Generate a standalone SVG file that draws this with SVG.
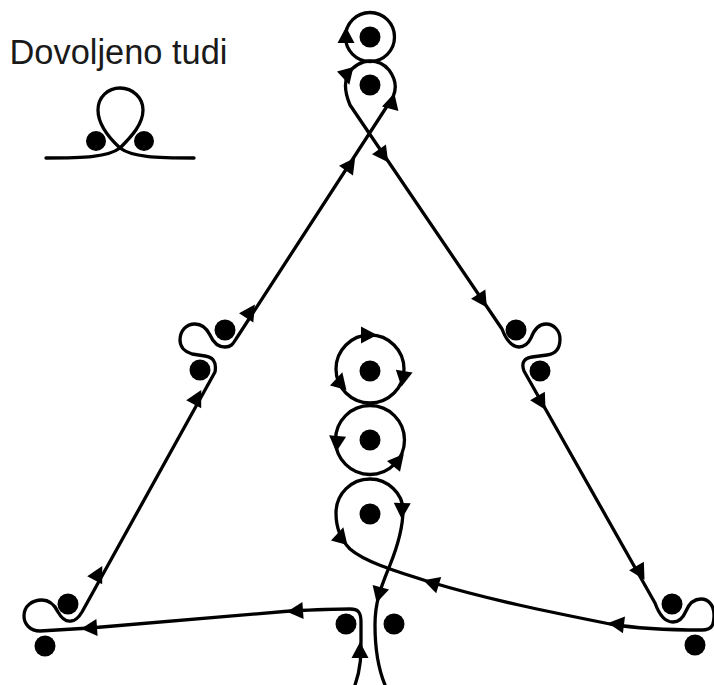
<svg xmlns="http://www.w3.org/2000/svg" width="714" height="685" viewBox="0 0 714 685">
<style>
.l{fill:none;stroke:#000;stroke-width:3.3;stroke-linecap:round;stroke-linejoin:round}
.d{fill:#000}
.t{font-family:"Liberation Sans",Arial,sans-serif;font-size:34.4px;fill:#1a1a1a}
</style>
<defs><polygon id="a" points="9,0 -7,-8.5 -7,8.5" fill="#000"/></defs>
<rect width="714" height="685" fill="#fff"/>
<g id="label"><text class="t" x="9.5" y="64">Dovoljeno tudi</text></g>
<g id="connectors">
<path class="l" d="M46 158C85 158 108 157 120 148C107 136 98 124 98 110C98 97 108 88 120 88C133 88 143 98 143 110C143 124 132 136 120 148C132 157 155 158 194 158"/>
<circle class="l" cx="370" cy="37" r="24.5"/>
<path class="l" d="M355 685C361 668 361 655 361 640L361 622C361 612 358 609 350 609C330 609 310 610 290 611L90 628L40 631C30 631 24 624 24 616C24 606 32 600 42 600C50 600 55 606 58 612C62 619 66 622 71 621C76 621 79 617 82 612L215 372C217 361 212 357 205 356L192 354C185 352 180 347 180 340C180 331 186 324 195 324C202 324 207 329 210 335C213 342 218 347 225 347C231 347 233 344 236 339L393 97C397 88 395 78 389 70C384 64 377 61 370 61C362 61 353 66 348 74C344 82 345 93 350 105L502 329C507 342 512 347 519 347C525 347 528 344 531 338C534 330 538 324 546 324C554 324 560 331 560 339C560 349 555 354 547 355L532 357C524 358 521 363 524 371L655 603C660 617 666 622 673 622C679 622 683 618 686 611C689 604 694 599 701 599C709 599 714 606 714 615C714 625 712 630 702 630C670 630 640 629 610 624C550 612 490 600 430 582C395 571 365 562 350 549C341 540 336 527 336 513C336 494 351 479 370 479C388 479 403 494 403 510C403 525 398 545 390 565C382 585 375 600 375 625C375 650 378 668 385 685"/>
<circle class="l" cx="370" cy="369" r="34"/>
<circle class="l" cx="370" cy="440" r="34.5"/>
<use href="#a" transform="translate(346,36) rotate(-90)"/>
<use href="#a" transform="translate(347,76) rotate(75)"/>
<use href="#a" transform="translate(392,102) rotate(-75)"/>
<use href="#a" transform="translate(383,155) rotate(55)"/>
<use href="#a" transform="translate(350,165) rotate(-55)"/>
<use href="#a" transform="translate(482,300) rotate(57)"/>
<use href="#a" transform="translate(541,402) rotate(60)"/>
<use href="#a" transform="translate(640,572) rotate(60)"/>
<use href="#a" transform="translate(617,624) rotate(187)"/>
<use href="#a" transform="translate(432,583) rotate(197)"/>
<use href="#a" transform="translate(250,312) rotate(-57)"/>
<use href="#a" transform="translate(197,398) rotate(-62)"/>
<use href="#a" transform="translate(98,574) rotate(-62)"/>
<use href="#a" transform="translate(90,628) rotate(176)"/>
<use href="#a" transform="translate(296,611) rotate(176)"/>
<use href="#a" transform="translate(360,651) rotate(-90)"/>
<use href="#a" transform="translate(379,594) rotate(105)"/>
<use href="#a" transform="translate(368,335) rotate(0)"/>
<use href="#a" transform="translate(403,378) rotate(100)"/>
<use href="#a" transform="translate(340,381) rotate(-75)"/>
<use href="#a" transform="translate(337,443) rotate(95)"/>
<use href="#a" transform="translate(398,461) rotate(-50)"/>
<use href="#a" transform="translate(402,510) rotate(92)"/>
<use href="#a" transform="translate(341,536) rotate(-75)"/>
</g>
<g id="n1"><circle class="d" cx="96" cy="141" r="10"/></g>
<g id="n2"><circle class="d" cx="144" cy="141" r="10"/></g>
<g id="n3"><circle class="d" cx="370" cy="37" r="10.5"/></g>
<g id="n4"><circle class="d" cx="370" cy="85" r="10.5"/></g>
<g id="n5"><circle class="d" cx="225" cy="330" r="10.5"/></g>
<g id="n6"><circle class="d" cx="200" cy="370" r="10.5"/></g>
<g id="n7"><circle class="d" cx="516" cy="330" r="10.5"/></g>
<g id="n8"><circle class="d" cx="540" cy="371" r="10.5"/></g>
<g id="n9"><circle class="d" cx="370" cy="371" r="10.5"/></g>
<g id="n10"><circle class="d" cx="370" cy="440" r="10.5"/></g>
<g id="n11"><circle class="d" cx="370" cy="514" r="10.5"/></g>
<g id="n12"><circle class="d" cx="68" cy="604" r="10.5"/></g>
<g id="n13"><circle class="d" cx="45" cy="646" r="10.5"/></g>
<g id="n14"><circle class="d" cx="346" cy="624" r="10.5"/></g>
<g id="n15"><circle class="d" cx="394" cy="624" r="10.5"/></g>
<g id="n16"><circle class="d" cx="672" cy="604" r="10.5"/></g>
<g id="n17"><circle class="d" cx="695" cy="645" r="10.5"/></g>
</svg>
